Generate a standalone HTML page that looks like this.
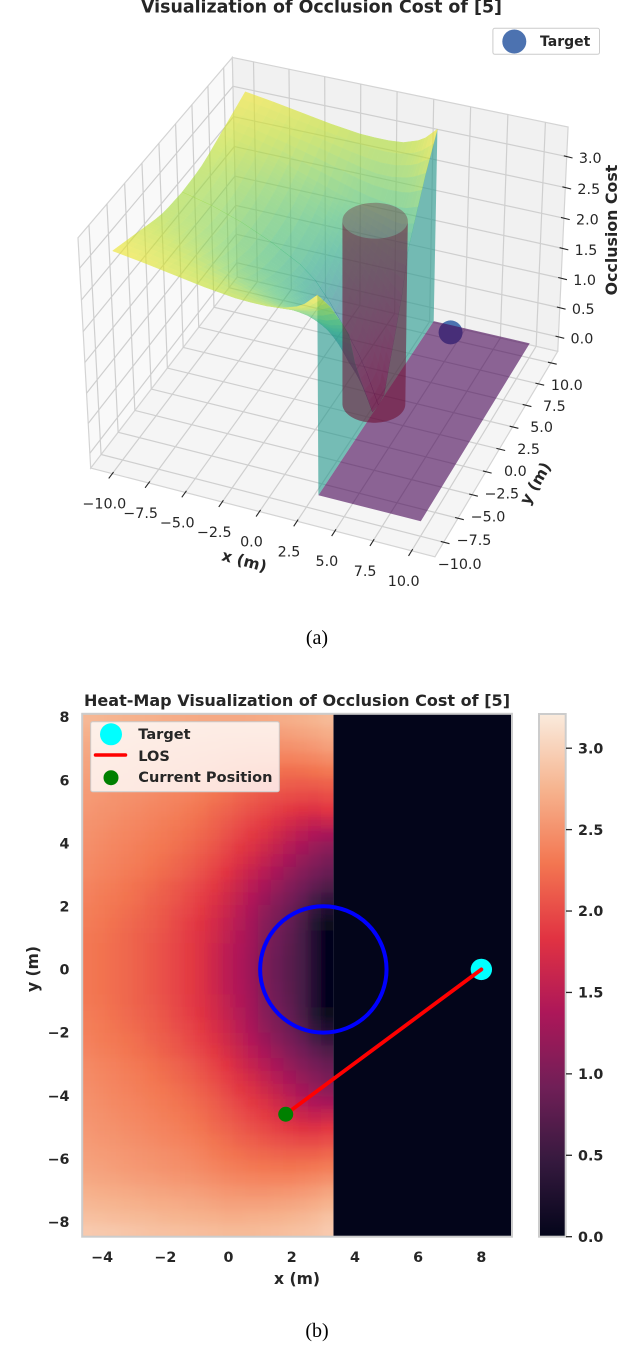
<!DOCTYPE html>
<html lang="en">
<head>
<meta charset="utf-8">
<title>Occlusion Cost Visualizations</title>
<style>
html,body{margin:0;padding:0;background:#fff;}
svg{display:block;}
text{font-family:"DejaVu Sans","Liberation Sans",sans-serif;fill:#262626;}
.b{font-weight:bold;}
.cap{font-family:"Liberation Serif",serif;font-size:20px;fill:#000;}
</style>
</head>
<body>
<svg id="fig" xmlns="http://www.w3.org/2000/svg" width="640" height="1371" viewBox="0 0 640 1371">
<defs>
<linearGradient id="cbar-grad" x1="0" y1="1" x2="0" y2="0">
<stop offset="0" stop-color="#03051a"/><stop offset="0.143" stop-color="#35193e"/><stop offset="0.286" stop-color="#701f57"/><stop offset="0.429" stop-color="#ad1759"/><stop offset="0.571" stop-color="#e13342"/><stop offset="0.714" stop-color="#f37651"/><stop offset="0.857" stop-color="#f6b48f"/><stop offset="1" stop-color="#faebdd"/>
</linearGradient>
<clipPath id="heat-clip"><rect x="82.2" y="713.8" width="251.2" height="522.9"/></clipPath>
<filter id="heat-soft" x="-5%" y="-5%" width="110%" height="110%"><feGaussianBlur stdDeviation="4"/></filter>
</defs>

<g id="panel-a">
<text class="b" x="321.5" y="12.5" font-size="17.4" text-anchor="middle">Visualization of Occlusion Cost of [5]</text>
<g id="a-panes"></g>
<g id="a-grid"></g>
<g id="a-ticks"></g>
<g id="a-target"></g>
<g id="a-floor"></g>
<g id="a-wall"></g>
<g id="a-surface-back" opacity="0.6"></g>
<g id="a-surface-front" opacity="0.6"></g>
<g id="a-cyl"></g>
<g id="a-labels" font-size="14.3"></g>
<text class="b" font-size="15.5" text-anchor="middle" transform="translate(243,566) rotate(15)">x (m)</text>
<text class="b" font-size="15.5" text-anchor="middle" transform="translate(540,486) rotate(-60)">y (m)</text>
<text class="b" font-size="15.8" text-anchor="middle" transform="translate(617,230) rotate(-90)">Occlusion Cost</text>
<g>
<rect x="492.9" y="28.3" width="106.6" height="26" rx="2" fill="#fff" stroke="#cccccc" stroke-width="1"/>
<circle cx="514.3" cy="41.5" r="12" fill="#4c72b0"/>
<text class="b" x="540" y="46" font-size="14">Target</text>
</g>
<text class="cap" x="317" y="644" text-anchor="middle">(a)</text>
</g>

<g id="panel-b">
<text class="b" x="297" y="706" font-size="16.05" text-anchor="middle">Heat-Map Visualization of Occlusion Cost of [5]</text>
<rect id="heat-zero"/>
<g clip-path="url(#heat-clip)"><g id="heat-cells" filter="url(#heat-soft)"></g></g>
<g id="heat-marks"></g>
<rect x="82.2" y="713.8" width="429.8" height="522.9" fill="none" stroke="#cccccc" stroke-width="2"/>
<g id="heat-ticks" class="b" font-size="14.3"></g>
<text class="b" x="297" y="1284" font-size="15.6" text-anchor="middle">x (m)</text>
<text class="b" font-size="15.6" text-anchor="middle" transform="translate(38,969) rotate(-90)">y (m)</text>
<g>
<rect x="90.7" y="721.7" width="188.6" height="70" rx="2" fill="#fff" fill-opacity="0.8" stroke="#cccccc" stroke-width="1"/>
<circle cx="111" cy="734.3" r="11" fill="#00ffff"/>
<text class="b" x="138.3" y="739" font-size="14.55">Target</text>
<line x1="95.5" y1="755" x2="125.5" y2="755" stroke="#ff0000" stroke-width="3.5" stroke-linecap="round"/>
<text class="b" x="138.3" y="761" font-size="14.55">LOS</text>
<circle cx="111" cy="777.7" r="7.5" fill="#008000"/>
<text class="b" x="138.3" y="782" font-size="14.55">Current Position</text>
</g>
<rect x="539" y="714" width="26.7" height="522.7" fill="url(#cbar-grad)" stroke="#cccccc" stroke-width="2"/>
<g id="cbar-ticks"></g>
<text class="cap" x="317" y="1337" text-anchor="middle">(b)</text>
</g>
</svg>

<script>
// ---- Heatmap data (panel b) ----
const heatTickX = [-4,-2,0,2,4,6,8];
const heatTickY = [8,6,4,2,0,-2,-4,-6,-8];
const colorbarTicks = [0,0.5,1,1.5,2,2.5,3];
const heatDomainX = [-4.63,8.97];
const heatDomainY = [8.1,-8.47];
const colorMax = 3.21;
const occlusionEdgeX = 3.32;
const targetPoint = [8,0];
const currentPoint = [1.81,-4.59];
const obstacleCenter = [3,0];
const obstacleRadius = 2;
// cost values, top row first, left column first, covering x from the left axis limit to occlusionEdgeX
const heatValues = [
[2.78,2.77,2.75,2.74,2.73,2.72,2.70,2.69,2.68,2.67,2.67,2.66,2.66,2.67,2.68,2.69,2.71,2.73,2.76,2.80],
[2.72,2.71,2.70,2.68,2.67,2.65,2.64,2.63,2.61,2.60,2.59,2.58,2.58,2.58,2.58,2.59,2.61,2.63,2.66,2.70],
[2.67,2.66,2.64,2.63,2.61,2.59,2.58,2.56,2.55,2.53,2.52,2.50,2.49,2.48,2.48,2.49,2.50,2.52,2.55,2.60],
[2.63,2.62,2.60,2.58,2.56,2.55,2.53,2.51,2.49,2.47,2.45,2.42,2.40,2.39,2.38,2.38,2.38,2.40,2.42,2.46],
[2.61,2.59,2.57,2.55,2.53,2.51,2.49,2.47,2.45,2.42,2.39,2.35,2.32,2.29,2.27,2.25,2.24,2.25,2.27,2.31],
[2.58,2.56,2.54,2.52,2.50,2.48,2.46,2.44,2.41,2.37,2.33,2.28,2.24,2.20,2.16,2.14,2.12,2.11,2.12,2.15],
[2.56,2.54,2.51,2.49,2.47,2.45,2.42,2.40,2.37,2.33,2.28,2.23,2.17,2.12,2.07,2.03,2.00,1.98,1.97,2.00],
[2.54,2.51,2.49,2.46,2.44,2.41,2.39,2.36,2.32,2.28,2.22,2.16,2.10,2.04,1.98,1.92,1.87,1.82,1.80,1.85],
[2.51,2.49,2.46,2.43,2.41,2.38,2.35,2.32,2.28,2.23,2.17,2.10,2.03,1.96,1.88,1.79,1.71,1.63,1.58,1.60],
[2.49,2.46,2.43,2.41,2.38,2.35,2.32,2.28,2.24,2.18,2.12,2.04,1.95,1.87,1.78,1.67,1.56,1.46,1.38,1.32],
[2.47,2.44,2.41,2.38,2.35,2.32,2.29,2.25,2.20,2.13,2.06,1.97,1.87,1.78,1.67,1.55,1.43,1.32,1.22,1.13],
[2.45,2.42,2.39,2.36,2.33,2.29,2.25,2.20,2.15,2.08,2.00,1.90,1.79,1.68,1.56,1.44,1.31,1.19,1.08,0.98],
[2.43,2.40,2.37,2.34,2.30,2.26,2.21,2.16,2.10,2.03,1.94,1.83,1.70,1.58,1.45,1.32,1.19,1.07,0.95,0.85],
[2.39,2.36,2.33,2.29,2.25,2.21,2.15,2.09,2.03,1.95,1.86,1.74,1.61,1.48,1.34,1.21,1.07,0.94,0.80,0.68],
[2.37,2.34,2.31,2.27,2.23,2.17,2.12,2.06,1.98,1.90,1.80,1.67,1.54,1.40,1.24,1.10,0.97,0.82,0.60,0.45],
[2.35,2.32,2.28,2.24,2.20,2.15,2.09,2.02,1.95,1.86,1.75,1.62,1.48,1.34,1.16,1.02,0.88,0.70,0.42,0.24],
[2.33,2.30,2.26,2.22,2.17,2.12,2.06,1.99,1.91,1.82,1.71,1.57,1.44,1.30,1.10,0.96,0.82,0.63,0.30,0.06],
[2.31,2.28,2.24,2.20,2.15,2.10,2.04,1.97,1.89,1.80,1.68,1.54,1.41,1.28,1.05,0.92,0.78,0.60,0.28,0.03],
[2.30,2.27,2.23,2.19,2.14,2.09,2.03,1.96,1.88,1.78,1.66,1.51,1.39,1.26,1.02,0.89,0.76,0.60,0.28,0.02],
[2.30,2.27,2.23,2.19,2.14,2.09,2.03,1.96,1.88,1.78,1.65,1.50,1.38,1.25,1.00,0.88,0.75,0.60,0.28,0.02],
[2.30,2.27,2.23,2.19,2.14,2.09,2.03,1.96,1.88,1.78,1.65,1.50,1.38,1.25,1.00,0.88,0.75,0.60,0.28,0.02],
[2.30,2.27,2.23,2.19,2.14,2.09,2.03,1.96,1.88,1.78,1.66,1.51,1.39,1.26,1.02,0.89,0.76,0.60,0.28,0.02],
[2.31,2.28,2.24,2.20,2.15,2.10,2.04,1.97,1.89,1.80,1.68,1.54,1.41,1.28,1.05,0.92,0.78,0.60,0.28,0.03],
[2.33,2.30,2.26,2.22,2.17,2.12,2.06,1.99,1.91,1.82,1.71,1.57,1.44,1.30,1.10,0.96,0.82,0.63,0.30,0.06],
[2.35,2.32,2.28,2.24,2.20,2.15,2.09,2.02,1.95,1.86,1.75,1.62,1.48,1.34,1.16,1.02,0.88,0.70,0.42,0.24],
[2.37,2.34,2.31,2.27,2.23,2.17,2.12,2.06,1.98,1.90,1.80,1.67,1.54,1.40,1.24,1.10,0.97,0.82,0.60,0.45],
[2.39,2.36,2.33,2.29,2.25,2.21,2.15,2.09,2.03,1.95,1.86,1.74,1.61,1.48,1.34,1.21,1.07,0.94,0.80,0.68],
[2.43,2.40,2.37,2.34,2.30,2.26,2.21,2.16,2.10,2.03,1.94,1.83,1.70,1.58,1.45,1.32,1.19,1.07,0.95,0.85],
[2.45,2.42,2.39,2.36,2.33,2.29,2.25,2.20,2.15,2.08,2.00,1.90,1.79,1.68,1.56,1.44,1.31,1.19,1.08,0.98],
[2.47,2.44,2.41,2.38,2.35,2.32,2.29,2.25,2.20,2.13,2.06,1.97,1.87,1.78,1.67,1.55,1.43,1.32,1.22,1.13],
[2.49,2.46,2.43,2.41,2.38,2.35,2.32,2.28,2.24,2.18,2.12,2.04,1.95,1.87,1.78,1.67,1.56,1.46,1.38,1.32],
[2.51,2.49,2.46,2.43,2.41,2.38,2.35,2.32,2.28,2.23,2.17,2.10,2.03,1.96,1.88,1.79,1.71,1.63,1.58,1.60],
[2.54,2.51,2.49,2.46,2.44,2.41,2.39,2.36,2.32,2.28,2.22,2.16,2.10,2.04,1.98,1.92,1.87,1.82,1.80,1.85],
[2.56,2.54,2.52,2.49,2.47,2.45,2.42,2.40,2.37,2.33,2.28,2.23,2.17,2.13,2.08,2.04,2.01,1.99,1.98,2.01],
[2.59,2.57,2.55,2.53,2.51,2.49,2.47,2.45,2.42,2.38,2.34,2.29,2.26,2.22,2.19,2.17,2.15,2.14,2.15,2.18],
[2.62,2.60,2.58,2.56,2.54,2.52,2.50,2.48,2.46,2.43,2.40,2.36,2.33,2.31,2.29,2.28,2.27,2.28,2.30,2.34],
[2.66,2.65,2.63,2.61,2.59,2.58,2.56,2.54,2.52,2.50,2.47,2.44,2.42,2.41,2.40,2.40,2.40,2.42,2.44,2.48],
[2.72,2.71,2.69,2.68,2.66,2.64,2.63,2.61,2.60,2.58,2.56,2.53,2.52,2.51,2.51,2.52,2.53,2.55,2.58,2.63],
[2.78,2.77,2.76,2.74,2.73,2.71,2.70,2.69,2.67,2.66,2.64,2.62,2.62,2.62,2.62,2.63,2.65,2.67,2.70,2.75],
[2.85,2.84,2.82,2.81,2.80,2.79,2.77,2.76,2.75,2.74,2.73,2.71,2.71,2.72,2.73,2.74,2.76,2.78,2.81,2.87],
[2.93,2.92,2.91,2.89,2.88,2.86,2.85,2.84,2.83,2.82,2.81,2.80,2.80,2.80,2.81,2.82,2.84,2.86,2.88,2.93]
];

// ---- Surface data (panel a) ----
const axisTicks3d = [-10,-7.5,-5,-2.5,0,2.5,5,7.5,10];
const zTicks3d = [0,0.5,1,1.5,2,2.5,3];
const xLimits3d = [-11.5,11.5];
const yLimits3d = [-11.5,11.4];
const zLimits3d = [-0.25,3.47];
const surfaceX = [-10,-8,-6,-4,-2,-1,0,1,2,2.5,3.3];
const surfaceY = [10,8,6,5,4,3,2,1,0,-1,-2,-3,-4,-5,-6,-8,-10];
const surfaceZ = [
[3.15,3.08,3.00,2.92,2.86,2.85,2.85,2.87,2.95,3.02,3.20],
[3.05,2.98,2.88,2.78,2.66,2.60,2.56,2.56,2.60,2.64,2.74],
[2.95,2.86,2.74,2.57,2.41,2.33,2.26,2.20,2.14,2.13,2.18],
[2.90,2.80,2.67,2.49,2.31,2.22,2.12,2.00,1.88,1.84,1.88],
[2.85,2.75,2.61,2.41,2.23,2.12,1.98,1.82,1.60,1.45,1.28],
[2.81,2.71,2.56,2.36,2.14,2.03,1.85,1.62,1.30,1.10,0.85],
[2.79,2.68,2.52,2.32,2.09,1.94,1.70,1.42,1.10,0.85,0.45],
[2.78,2.67,2.51,2.30,2.05,1.87,1.57,1.22,0.85,0.55,0.03],
[2.77,2.66,2.50,2.29,2.03,1.83,1.52,1.15,0.75,0.50,0.00],
[2.78,2.67,2.51,2.30,2.05,1.87,1.57,1.22,0.85,0.55,0.03],
[2.79,2.68,2.52,2.32,2.09,1.94,1.70,1.42,1.10,0.85,0.45],
[2.81,2.71,2.56,2.36,2.14,2.03,1.85,1.62,1.30,1.10,0.85],
[2.85,2.75,2.61,2.41,2.23,2.12,1.98,1.82,1.60,1.45,1.28],
[2.90,2.80,2.67,2.49,2.31,2.22,2.12,2.00,1.88,1.84,1.88],
[2.95,2.86,2.74,2.57,2.41,2.33,2.26,2.20,2.14,2.13,2.18],
[3.05,2.98,2.88,2.78,2.66,2.60,2.56,2.56,2.60,2.64,2.74],
[3.15,3.08,3.00,2.92,2.86,2.85,2.85,2.87,2.95,3.02,3.20]
];
const floorX = [3.3,10];
const floorY = [-10,10];
const target3d = [8,0,1.5];
const cylinderCenter = [3,0];
const cylinderRadius = 2;
const cylinderHeight = [0,3.0];

// ---- helpers ----
const NS = 'http://www.w3.org/2000/svg';
function mk(tag, attrs, parent){
  const e = document.createElementNS(NS, tag);
  for (const k in attrs) e.setAttribute(k, attrs[k]);
  parent.appendChild(e);
  return e;
}
function linear(d, r){ return v => r[0] + (v - d[0]) / (d[1] - d[0]) * (r[1] - r[0]); }
function minus(s){ return String(s).replace('-', '\u2212'); }
function hex(c){ return [parseInt(c.slice(1,3),16),parseInt(c.slice(3,5),16),parseInt(c.slice(5,7),16)]; }
function ramp(stops, t){
  t = Math.max(0, Math.min(1, t));
  const f = t * (stops.length - 1), i = Math.min(stops.length - 2, Math.floor(f)), a = hex(stops[i]), b = hex(stops[i+1]), k = f - i;
  return 'rgb(' + a.map((v,j) => Math.round(v + (b[j]-v)*k)).join(',') + ')';
}
const rocket = ['#03051a','#35193e','#701f57','#ad1759','#e13342','#f37651','#f6b48f','#faebdd'];
const viridis = ['#440154','#482475','#414487','#355f8d','#2a788e','#21918c','#22a884','#44bf70','#7ad151','#bddf26','#fde725'];
const byId = id => document.getElementById(id);

// ---- Heatmap ----
const hx = linear(heatDomainX, [82.2,512]);
const hy = linear(heatDomainY, [713.8,1236.7]);
const cy = linear([0,colorMax], [1236.7,714]);
(function(){
  const zero = byId('heat-zero');
  zero.setAttribute('x', hx(occlusionEdgeX));
  zero.setAttribute('y', hy(heatDomainY[0]));
  zero.setAttribute('width', hx(heatDomainX[1]) - hx(occlusionEdgeX));
  zero.setAttribute('height', hy(heatDomainY[1]) - hy(heatDomainY[0]));
  zero.setAttribute('fill', ramp(rocket, 0));
  const g = byId('heat-cells');
  const rows = heatValues.length, cols = heatValues[0].length;
  const dx = (occlusionEdgeX - heatDomainX[0]) / cols, dy = (heatDomainY[0] - heatDomainY[1]) / rows;
  const pad = 14;
  heatValues.forEach((row, r) => row.forEach((v, c) => {
    let x0 = hx(heatDomainX[0] + c*dx), x1 = hx(heatDomainX[0] + (c+1)*dx);
    let y0 = hy(heatDomainY[0] - r*dy), y1 = hy(heatDomainY[0] - (r+1)*dy);
    if (c === 0) x0 -= pad;
    if (c === cols-1) x1 += pad;
    if (r === 0) y0 -= pad;
    if (r === rows-1) y1 += pad;
    const cell = mk('rect', {x:x0, y:y0, width:x1-x0+0.5, height:y1-y0+0.5, fill:ramp(rocket, v/colorMax)}, g);
    
    
  }));

  const m = byId('heat-marks');
  const circle = mk('circle', {cx:hx(obstacleCenter[0]), cy:hy(obstacleCenter[1]), r:hx(obstacleRadius)-hx(0), fill:'none', stroke:'#0000ff', 'stroke-width':4}, m);
  
  
  const tgt = mk('circle', {cx:hx(targetPoint[0]), cy:hy(targetPoint[1]), r:10.7, fill:'#00ffff'}, m);
  
  
  const los = mk('line', {x1:hx(currentPoint[0]), y1:hy(currentPoint[1]), x2:hx(targetPoint[0]), y2:hy(targetPoint[1]), stroke:'#ff0000', 'stroke-width':3.8, 'stroke-linecap':'round'}, m);
  
  
  const cur = mk('circle', {cx:hx(currentPoint[0]), cy:hy(currentPoint[1]), r:7.5, fill:'#008000'}, m);
  
  

  const t = byId('heat-ticks');
  heatTickX.forEach(v => {
    const l = mk('text', {x:hx(v), y:1262, 'text-anchor':'middle'}, t);
    l.textContent = minus(v);
    
    
  });
  heatTickY.forEach(v => {
    const l = mk('text', {x:69.5, y:hy(v)+5.2, 'text-anchor':'end'}, t);
    l.textContent = minus(v);
    
    
  });
  const b = byId('cbar-ticks');
  colorbarTicks.forEach(v => {
    const tick = mk('line', {x1:566, x2:572, y1:cy(v), y2:cy(v), stroke:'#262626', 'stroke-width':1.3}, b);
    
    
    const l = mk('text', {x:578, y:cy(v)+5.2, 'font-size':14.3, 'font-weight':'bold'}, b);
    l.textContent = v.toFixed(1);
    
    
  });
})();

// ---- 3D projection: homography fitted to the box corners seen in the figure ----
const boxCorners = [
 [0,0,0,90.3,467.7],[1,0,0,435.3,556.7],[0,1,0,237.4,277],[1,1,0,557.6,351.7],
 [0,0,1,78,238.3],[0,1,1,232.5,57.3],[1,1,1,567.9,126.7]
];
function fitCamera(pts){
  const rows = [], rhs = [];
  pts.forEach(p => {
    const [u,v,w,X,Y] = p;
    rows.push([1,u,v,w,0,0,0,0,-X*u,-X*v,-X*w]); rhs.push(X);
    rows.push([0,0,0,0,1,u,v,w,-Y*u,-Y*v,-Y*w]); rhs.push(Y);
  });
  const n = 11, A = [];
  for (let i=0;i<n;i++){
    A.push([]);
    for (let j=0;j<n;j++){ let s=0; rows.forEach(r=>{s+=r[i]*r[j];}); A[i].push(s); }
    let s=0; rows.forEach((r,k)=>{s+=r[i]*rhs[k];}); A[i].push(s);
  }
  for (let i=0;i<n;i++){
    let p=i; for (let k=i+1;k<n;k++) if (Math.abs(A[k][i])>Math.abs(A[p][i])) p=k;
    const tmp=A[i];A[i]=A[p];A[p]=tmp;
    for (let k=i+1;k<n;k++){ const f=A[k][i]/A[i][i]; for (let j=i;j<=n;j++) A[k][j]-=f*A[i][j]; }
  }
  const x = new Array(n).fill(0);
  for (let i=n-1;i>=0;i--){ let s=A[i][n]; for (let j=i+1;j<n;j++) s-=A[i][j]*x[j]; x[i]=s/A[i][i]; }
  return x;
}
const cam = fitCamera(boxCorners);
function projUnit(u,v,w){
  const d = 1 + cam[8]*u + cam[9]*v + cam[10]*w;
  return [(cam[0]+cam[1]*u+cam[2]*v+cam[3]*w)/d, (cam[4]+cam[5]*u+cam[6]*v+cam[7]*w)/d];
}
const ux = linear(xLimits3d,[0,1]), uy = linear(yLimits3d,[0,1]), uz = linear(zLimits3d,[0,1]);
function proj(x,y,z){ return projUnit(ux(x),uy(y),uz(z)); }
const pts = a => a.map(p => p[0].toFixed(2)+','+p[1].toFixed(2)).join(' ');
const [xA,xB] = xLimits3d, [yA,yB] = yLimits3d, [zA,zB] = zLimits3d;

(function(){
  // panes
  const pg = byId('a-panes');
  const floorPane = mk('polygon', {points:pts([proj(xA,yA,zA),proj(xB,yA,zA),proj(xB,yB,zA),proj(xA,yB,zA)]), fill:'#f5f5f5', stroke:'#d4d4d4', 'stroke-width':1.2}, pg);
  
  
  const leftPane = mk('polygon', {points:pts([proj(xA,yA,zA),proj(xA,yB,zA),proj(xA,yB,zB),proj(xA,yA,zB)]), fill:'#f9f9f9', stroke:'#d4d4d4', 'stroke-width':1.2}, pg);
  
  
  const backPane = mk('polygon', {points:pts([proj(xA,yB,zA),proj(xB,yB,zA),proj(xB,yB,zB),proj(xA,yB,zB)]), fill:'#f1f1f1', stroke:'#d4d4d4', 'stroke-width':1.2}, pg);
  
  

  // grid
  const gg = byId('a-grid');
  const gridAttrs = {fill:'none', stroke:'#cfcfcf', 'stroke-width':1.2};
  axisTicks3d.forEach(x => {
    const line = mk('polyline', Object.assign({points:pts([proj(x,yA,zA),proj(x,yB,zA),proj(x,yB,zB)])}, gridAttrs), gg);
    
    
  });
  axisTicks3d.forEach(y => {
    const line = mk('polyline', Object.assign({points:pts([proj(xB,y,zA),proj(xA,y,zA),proj(xA,y,zB)])}, gridAttrs), gg);
    
    
  });
  zTicks3d.forEach(z => {
    const line = mk('polyline', Object.assign({points:pts([proj(xA,yA,z),proj(xA,yB,z),proj(xB,yB,z)])}, gridAttrs), gg);
    
    
  });

  // ticks + labels
  const tg = byId('a-ticks'), lg = byId('a-labels');
  function seg(p, q, inner, outer, name){
    const dx=q[0]-p[0], dy=q[1]-p[1], L=Math.hypot(dx,dy), ax=dx/L, ay=dy/L;
    const t = mk('line', {x1:p[0]-ax*inner, y1:p[1]-ay*inner, x2:p[0]+ax*outer, y2:p[1]+ay*outer, stroke:'#262626', 'stroke-width':1.1}, tg);
    
    
  }
  axisTicks3d.forEach(x => {
    const p = proj(x,yA,zA), q = proj(x,yA-3,zA);
    seg(p,q,2,6,'x-tick');
    const l = mk('text', {x:p[0]-8, y:p[1]+35, 'text-anchor':'middle'}, lg);
    l.textContent = minus(x.toFixed(1));
    
    
  });
  axisTicks3d.forEach(y => {
    const p = proj(xB,y,zA), q = proj(xB+3,y,zA);
    seg(p,q,3,6,'y-tick');
    const l = mk('text', {x:p[0]+16, y:p[1]+27, 'text-anchor':'middle'}, lg);
    l.textContent = minus(y.toFixed(1));
    
    
  });
  zTicks3d.forEach(z => {
    const p = proj(xB,yB,z);
    const q = [p[0]+10, p[1]+2.5];
    seg(p,q,3,6,'z-tick');
    const l = mk('text', {x:p[0]+23.5, y:p[1]+6.5, 'text-anchor':'middle'}, lg);
    l.textContent = z.toFixed(1);
    
    
  });

  // target marker
  const tp = proj(target3d[0],target3d[1],target3d[2]);
  const tm = mk('circle', {cx:tp[0]+1, cy:tp[1]+1, r:12, fill:'#4c72b0'}, byId('a-target'));
  
  

  // floor plane at z = 0
  const fl = mk('polygon', {points:pts([proj(floorX[0],floorY[0],0),proj(floorX[1],floorY[0],0),proj(floorX[1],floorY[1],0),proj(floorX[0],floorY[1],0)]), fill:'#440154', 'fill-opacity':0.6}, byId('a-floor'));
  
  

  // wall under the surface edge at the occlusion boundary
  const last = surfaceX.length - 1, edgeX = surfaceX[last];
  const wallTop = surfaceY.map((y,i) => proj(edgeX,y,surfaceZ[i][last]));
  const wallBottom = surfaceY.map(y => proj(edgeX,y,0)).reverse();
  const wall = mk('polygon', {points:pts(wallTop.concat(wallBottom)), fill:'rgb(31,150,139)', 'fill-opacity':0.6}, byId('a-wall'));
  
  

  // surface, far to near; the near half is its own translucent layer so overlaps deepen
  const sgBack = byId('a-surface-back'), sgFront = byId('a-surface-front');
  const sub = 3;
  for (let r = 0; r < surfaceY.length-1; r++){
    const sg = surfaceY[r] > 0 ? sgBack : sgFront;
    for (let c = 0; c < surfaceX.length-1; c++){
      for (let a = 0; a < sub; a++){
        for (let b = 0; b < sub; b++){
          const at = (i,j) => {
            const s=(b+i)/sub, t=(a+j)/sub;
            const z=(surfaceZ[r][c]*(1-s)+surfaceZ[r][c+1]*s)*(1-t)+(surfaceZ[r+1][c]*(1-s)+surfaceZ[r+1][c+1]*s)*t;
            const x=surfaceX[c]+(surfaceX[c+1]-surfaceX[c])*s, y=surfaceY[r]+(surfaceY[r+1]-surfaceY[r])*t;
            return [x,y,z];
          };
          const q=[at(0,0),at(1,0),at(1,1),at(0,1)];
          const mean=(q[0][2]+q[1][2]+q[2][2]+q[3][2])/4;
          const col=ramp(viridis, mean/3.2);
          const poly = mk('polygon', {points:pts(q.map(p=>proj(p[0],p[1],p[2]))), fill:col, stroke:col, 'stroke-width':0.5}, sg);
          
          
        }
      }
    }
  }

  // cylinder
  const cg = byId('a-cyl');
  const ring = z => { const a=[]; for (let i=0;i<72;i++){ const t=i/72*2*Math.PI; a.push(proj(cylinderCenter[0]+cylinderRadius*Math.cos(t), cylinderCenter[1]+cylinderRadius*Math.sin(t), z)); } return a; };
  const low = ring(cylinderHeight[0]), high = ring(cylinderHeight[1]);
  // left and right silhouette indices in screen space
  let iL=0,iR=0; low.forEach((p,i)=>{ if(p[0]<low[iL][0]) iL=i; if(p[0]>low[iR][0]) iR=i; });
  const arc=(ringPts,from,to)=>{ const a=[]; let i=from; for(;;){ a.push(ringPts[i]); if(i===to)break; i=(i+1)%72; } return a; };
  const cFill='#6e0a2d';
  const bot = mk('polygon', {points:pts(low), fill:cFill, 'fill-opacity':0.32}, cg);
  
  
  const faceA = arc(high,iL,iR).concat(arc(low,iL,iR).reverse());
  const faceB = arc(high,iR,iL).concat(arc(low,iR,iL).reverse());
  const f1 = mk('polygon', {points:pts(faceA), fill:cFill, 'fill-opacity':0.32}, cg);
  
  
  const f2 = mk('polygon', {points:pts(faceB), fill:cFill, 'fill-opacity':0.32}, cg);
  
  
})();
</script>
</body>
</html>
